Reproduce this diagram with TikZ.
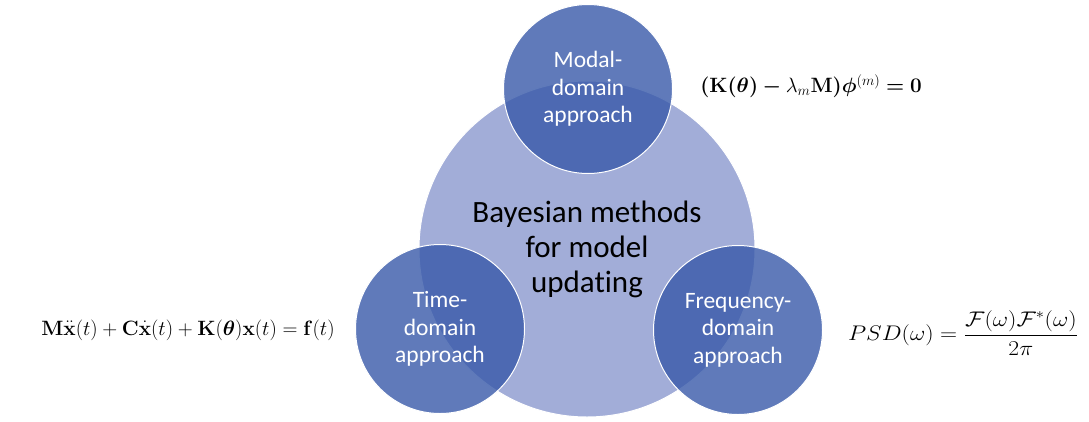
\documentclass[tikz,border=0pt]{standalone}
\usepackage{amsmath,bm}
\usepackage[no-math]{fontspec}
\setmainfont{Carlito}[Ligatures=NoCommon]
\definecolor{lavender}{RGB}{162,173,216}
\definecolor{approachblue}{RGB}{56,89,169}
\begin{document}
\begin{tikzpicture}[x=1pt,y=-1pt,
  corecircle/.style={circle, fill=lavender, draw=white, line width=1pt,
    minimum size=336pt, inner sep=0pt, align=center,
    font=\fontsize{31}{35}\selectfont},
  approach/.style={circle, fill=approachblue, fill opacity=0.8, text opacity=1,
    draw=white, line width=1pt, minimum size=169pt, inner sep=0pt,
    text=white, align=center, font=\fontsize{23.5}{27.5}\selectfont},
  eqn/.style={inner sep=0pt, font=\fontsize{20.5}{24}\selectfont}]
\useasboundingbox (0,0) rectangle (1089,421);

% central method circle
\node[corecircle] (core) at (587,249) {Bayesian methods\\for model\\updating};

% the three approach circles
\node[approach] (modal) at (588,89)  {Modal-\\domain\\approach};
\node[approach] (time)  at (440,329) {Time-\\domain\\approach};
\node[approach] (freq)  at (738,330) {Frequency-\\domain\\approach};

% governing equations
\node[eqn] (modaleq) at (811,86)
  {$\bm{(}\mathbf{K}\bm{(}\bm{\theta}\bm{)}\bm{-}\lambda_m\mathbf{M}\bm{)}\bm{\phi}^{(m)}\bm{=}\mathbf{0}$};
\node[eqn] (timeeq) at (188,330)
  {$\mathbf{M}\ddot{\mathbf{x}}(t)+\mathbf{C}\dot{\mathbf{x}}(t)+\mathbf{K}(\bm{\theta})\mathbf{x}(t)=\mathbf{f}(t)$};
\node[eqn] (freqeq) at (963,333)
  {\scalebox{1.14}[1.02]{$PSD(\omega)=\dfrac{\mathcal{F}(\omega)\mathcal{F}^{*}(\omega)}{2\pi}$}};
\end{tikzpicture}
\end{document}
